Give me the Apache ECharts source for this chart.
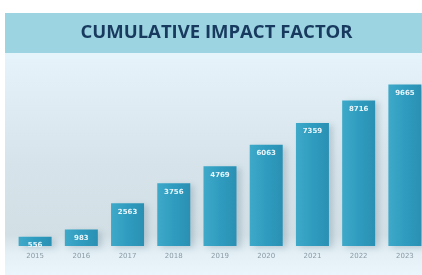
<!DOCTYPE html>
<html><head><meta charset="utf-8">
<script src="https://cdn.jsdelivr.net/npm/echarts@6/dist/echarts.min.js"></script>
<style>html,body{margin:0;padding:0;background:#fff;overflow:hidden;width:422px;height:275px}#c{width:432px;height:275px}</style>
</head><body><div id="c"></div>
<script>
const titleText = "CUMULATIVE IMPACT FACTOR";
const years = ["2015","2016","2017","2018","2019","2020","2021","2022","2023"];
const impact = [556, 983, 2563, 3756, 4769, 6063, 7359, 8716, 9665];

const chart = echarts.init(document.getElementById('c'), null, {renderer:'canvas'});
chart.setOption({
  animation:false,
  backgroundColor:'#ffffff',
  graphic:[
    {type:'rect', z:-10, shape:{x:5,y:53,width:427,height:222},
      style:{fill:new echarts.graphic.LinearGradient(0,0,0,1,[
        {offset:0,color:'#e6f3fa'},{offset:0.5,color:'#d6e3ea'},{offset:0.82,color:'#d2dfe5'},{offset:0.9,color:'#e3eff5'},{offset:1,color:'#eaf6fc'}])}},
    {type:'rect', z:-9, shape:{x:5,y:13,width:427,height:40}, style:{fill:'#9dd4e1'}},
    {type:'rect', z:-9, shape:{x:5,y:53,width:427,height:6}, style:{fill:'#e5f3fa'}},
    {type:'text', z:10, x:216.5, y:33, style:{text:titleText, fill:'#173a5e', align:'center', verticalAlign:'middle', font:'bold 18.5px "Open Sans", sans-serif'}}
  ],
  grid:{left:12, top:79, width:416, bottom:29},
  xAxis:{type:'category', data:years, boundaryGap:true,
    axisLine:{show:false}, axisTick:{show:false},
    axisLabel:{color:'#8a9aa4', fontSize:7, margin:7, fontFamily:'"DejaVu Sans", sans-serif'}},
  yAxis:{type:'value', min:0, max:10000, show:false, splitLine:{show:false}},
  series:[{
    type:'bar', data:impact, barWidth:33,
    itemStyle:{color:new echarts.graphic.LinearGradient(0,0,1,0,[
      {offset:0,color:'#3fa9c9'},{offset:0.5,color:'#2f9cbf'},{offset:1,color:'#2a90b3'}]),
      shadowColor:'rgba(80,110,130,0.25)', shadowBlur:6, shadowOffsetX:4, shadowOffsetY:2},
    label:{show:true, position:'insideTop', distance:5, color:'#e8f6fb', fontSize:7, fontWeight:'bold', fontFamily:'"DejaVu Sans", sans-serif'}
  }]
});
</script></body></html>
